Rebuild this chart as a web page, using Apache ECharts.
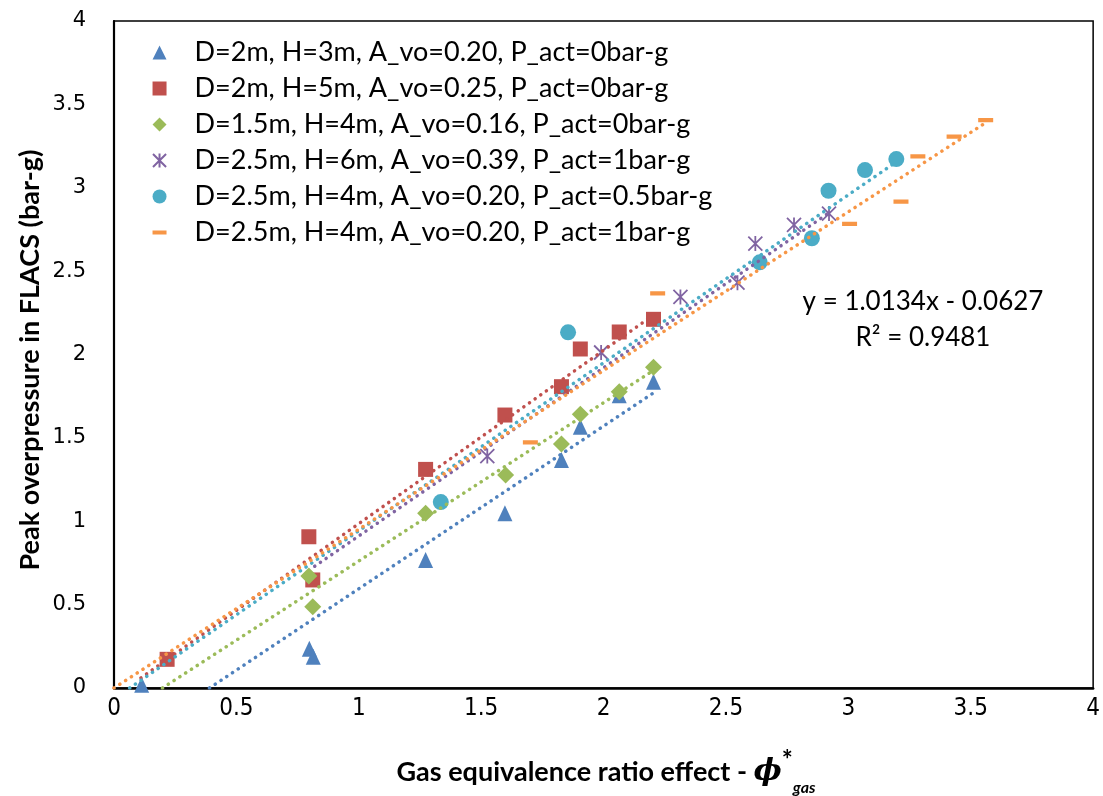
<!DOCTYPE html>
<html>
<head>
<meta charset="utf-8">
<script src="https://cdn.jsdelivr.net/npm/echarts@6/dist/echarts.min.js"></script>
<style>html,body{margin:0;padding:0;background:#fff}#c{width:1103px;height:796px}</style>
</head>
<body>
<div id="c"></div>
<script>
// ---- data ----
const seriesNames = [
  'D=2m, H=3m, A_vo=0.20, P_act=0bar-g',
  'D=2m, H=5m, A_vo=0.25, P_act=0bar-g',
  'D=1.5m, H=4m, A_vo=0.16, P_act=0bar-g',
  'D=2.5m, H=6m, A_vo=0.39, P_act=1bar-g',
  'D=2.5m, H=4m, A_vo=0.20, P_act=0.5bar-g',
  'D=2.5m, H=4m, A_vo=0.20, P_act=1bar-g'
];
const xTickLabels = ['0','0.5','1','1.5','2','2.5','3','3.5','4'];
const yTickLabels = ['0','0.5','1','1.5','2','2.5','3','3.5','4'];
const yAxisTitle = 'Peak overpressure in FLACS (bar-g)';

const blueTri = [[0.113,0.02],[0.798,0.235],[0.814,0.188],[1.273,0.768],[1.597,1.048],[1.828,1.367],[1.905,1.567],[2.064,1.755],[2.204,1.837]];
const redSq   = [[0.217,0.172],[0.796,0.907],[0.812,0.648],[1.273,1.311],[1.597,1.637],[1.828,1.807],[1.905,2.033],[2.064,2.135],[2.204,2.211]];
const greenDia= [[0.796,0.672],[0.812,0.488],[1.273,1.048],[1.600,1.277],[1.828,1.463],[1.905,1.641],[2.064,1.777],[2.204,1.923]];
const purpleStar = [[1.525,1.391],[1.990,2.012],[2.314,2.345],[2.547,2.431],[2.620,2.665],[2.778,2.777],[2.921,2.845]];
const cyanCirc = [[1.335,1.115],[1.855,2.133],[2.638,2.553],[2.851,2.697],[2.919,2.982],[3.068,3.106],[3.196,3.172]];
const orangeDash = [[1.701,1.473],[2.221,2.367],[3.005,2.783],[3.215,2.917],[3.284,3.188],[3.432,3.306],[3.561,3.406]];

// dotted linear trendlines (end points)
const blueTrend   = [[0.39,0],[2.204,1.77]];
const redTrend    = [[0.11,0.06],[2.204,2.237]];
const greenTrend  = [[0.198,0],[2.204,1.905]];
const purpleTrend = [[0.82,0.73],[2.921,2.85]];
const cyanTrend   = [[0.064,0],[3.196,3.155]];
const orangeTrend = [[0,0],[3.561,3.39]];

const equationText = 'y = 1.0134x - 0.0627';
const r2Text = 'R² = 0.9481';

// ---- styling ----
const colors = ['#4F81BD','#C0504D','#9BBB59','#8064A2','#4BACC6','#F79646'];
const symbols = [
  'triangle',
  'rect',
  'diamond',
  'path://M0,0L14,14M14,0L0,14M7,-0.5L7,14.5',
  'circle',
  'path://M0,0L0.01,0L0,0.01Z M0,5H14V9H0Z M14,14L13.99,14L14,13.99Z'
];
const symbolSizes = [[15,16], 15, 17, 15, 16, 15];
const scatterData = [blueTri, redSq, greenDia, purpleStar, cyanCirc, orangeDash];
const trendData = [blueTrend, redTrend, greenTrend, purpleTrend, cyanTrend, orangeTrend];

const series = [];
scatterData.forEach((d, i) => {
  const isStar = i === 3;
  series.push({
    name: seriesNames[i],
    type: 'scatter',
    data: d,
    symbol: symbols[i],
    symbolSize: symbolSizes[i],
    symbolKeepAspect: true,
    z: 2,
    itemStyle: isStar
      ? {color: 'rgba(0,0,0,0)', borderColor: colors[i], borderWidth: 1.8, opacity: 1}
      : {color: colors[i], opacity: 1},
    emphasis: {disabled: true}
  });
});
trendData.forEach((d, i) => {
  series.push({
    type: 'line',
    data: d,
    symbol: 'none',
    silent: true,
    z: 3,
    clip: true,
    lineStyle: {color: colors[i], width: 3.5, type: [0.1, 6.8], cap: 'round'}
  });
});

const chart = echarts.init(document.getElementById('c'), null, {renderer: 'canvas'});
chart.setOption({
  animation: false,
  backgroundColor: '#fff',
  grid: {left: 114, top: 21, right: 9, bottom: 108, show: true, borderColor: '#000', borderWidth: 1.5, containLabel: false},
  xAxis: {
    type: 'value', min: 0, max: 4, interval: 0.5,
    axisLine: {show: true, onZero: false, lineStyle: {color: '#000', width: 2.5}},
    axisTick: {show: false},
    splitLine: {show: false},
    axisLabel: {
      color: '#000', fontSize: 24, margin: 9,
      fontFamily: "'Liberation Sans Narrow','DejaVu Sans Condensed',sans-serif",
      formatter: v => xTickLabels[Math.round(v / 0.5)]
    }
  },
  yAxis: {
    type: 'value', min: 0, max: 4, interval: 0.5,
    axisLine: {show: true, onZero: false, lineStyle: {color: '#000', width: 2.2}},
    axisTick: {show: false},
    splitLine: {show: false},
    axisLabel: {
      color: '#000', fontSize: 21, margin: 28,
      fontFamily: "'DejaVu Sans',sans-serif",
      formatter: v => yTickLabels[Math.round(v / 0.5)]
    }
  },
  legend: {
    data: seriesNames,
    orient: 'vertical',
    left: 147, top: 34,
    itemWidth: 14, itemHeight: 14, itemGap: 9,
    selectedMode: false,
    textStyle: {color: '#000', fontSize: 27, fontFamily: 'Lato, sans-serif', lineHeight: 27, padding: [0, 0, 0, 23]}
  },
  graphic: [
    {
      type: 'text', x: 30, y: 360, rotation: Math.PI / 2, silent: true,
      style: {text: yAxisTitle, align: 'center', verticalAlign: 'middle', fill: '#000', fontSize: 27, fontWeight: 'bold', fontFamily: 'Lato, sans-serif'}
    },
    {
      type: 'text', x: 606, y: 772, silent: true,
      style: {
        text: '{a|Gas equivalence ratio effect - }{p|ϕ}{s|*}{g|gas}',
        align: 'center', verticalAlign: 'middle', fill: '#000',
        rich: {
          a: {fontSize: 27, fontWeight: 'bold', fontFamily: 'Lato, sans-serif', fill: '#000', verticalAlign: 'middle'},
          p: {fontSize: 30, fontWeight: 'bold', fontStyle: 'italic', fontFamily: "'DejaVu Serif', serif", fill: '#000', lineHeight: 48, verticalAlign: 'middle'},
          s: {fontSize: 26, fontWeight: 'bold', fontFamily: 'Lato, sans-serif', fill: '#000', verticalAlign: 'top', lineHeight: 26},
          g: {fontSize: 16, fontWeight: 'bold', fontStyle: 'italic', fontFamily: 'Lato, sans-serif', fill: '#000', verticalAlign: 'bottom', lineHeight: 17}
        }
      }
    },
    {
      type: 'text', x: 923, y: 302, silent: true,
      style: {text: equationText, align: 'center', verticalAlign: 'middle', fill: '#000', fontSize: 26, fontFamily: 'Lato, sans-serif'}
    },
    {
      type: 'text', x: 923, y: 338, silent: true,
      style: {text: r2Text, align: 'center', verticalAlign: 'middle', fill: '#000', fontSize: 26, fontFamily: 'Lato, sans-serif'}
    }
  ],
  series: series
});
</script>
</body>
</html>
